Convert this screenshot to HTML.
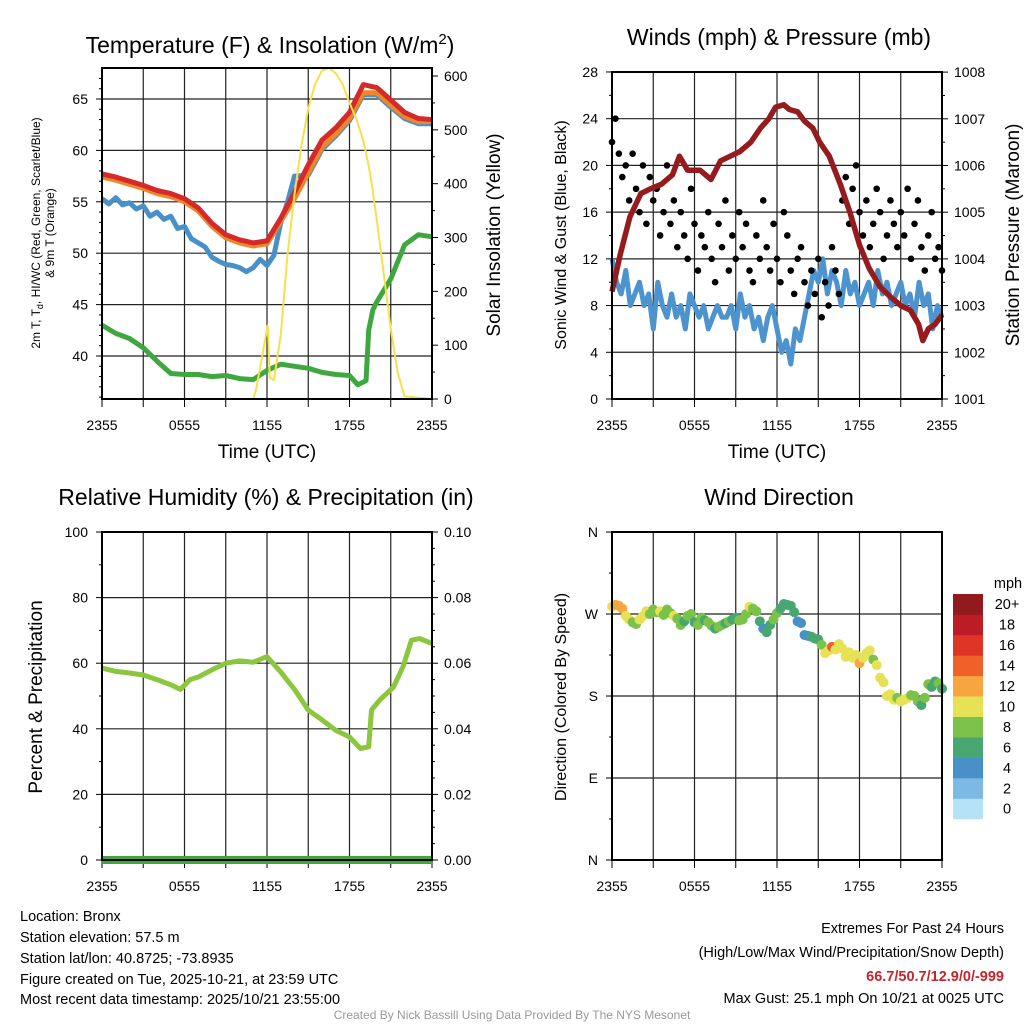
<!DOCTYPE html>
<html><head><meta charset="utf-8">
<style>
body{margin:0;background:#fff;}
svg{display:block;font-family:"Liberation Sans",sans-serif;}
</style></head>
<body>
<svg id="fig" width="1024" height="1024" viewBox="0 0 1024 1024">
<rect width="1024" height="1024" fill="#fff"/>
<g id="g-temp"></g>
<g id="g-wind"></g>
<g id="g-rh"></g>
<g id="g-dir"></g>

<text x="270" y="53" font-size="23" text-anchor="middle">Temperature (F) &amp; Insolation (W/m<tspan dy="-9" font-size="15">2</tspan><tspan dy="9">)</tspan></text>
<text x="779" y="45" font-size="23" text-anchor="middle">Winds (mph) &amp; Pressure (mb)</text>
<text x="266" y="505" font-size="23" text-anchor="middle">Relative Humidity (%) &amp; Precipitation (in)</text>
<text x="779" y="505" font-size="23" text-anchor="middle">Wind Direction</text>

<text x="267" y="458" font-size="19" text-anchor="middle">Time (UTC)</text>
<text x="777" y="458" font-size="19" text-anchor="middle">Time (UTC)</text>

<g transform="translate(40,233) rotate(-90)">
<text x="0" y="0" font-size="12" text-anchor="middle">2m T, T<tspan dy="3" font-size="9">d</tspan><tspan dy="-3">, HI/WC (Red, Green, Scarlet/Blue)</tspan></text>
<text x="0" y="14" font-size="12" text-anchor="middle">&amp; 9m T (Orange)</text>
</g>
<text transform="translate(500,235) rotate(-90)" font-size="19" text-anchor="middle">Solar Insolation (Yellow)</text>
<text transform="translate(566,235) rotate(-90)" font-size="16" text-anchor="middle">Sonic Wind &amp; Gust (Blue, Black)</text>
<text transform="translate(1019,235) rotate(-90)" font-size="19" text-anchor="middle">Station Pressure (Maroon)</text>
<text transform="translate(42,697) rotate(-90)" font-size="19" text-anchor="middle">Percent &amp; Precipitation</text>
<text transform="translate(566,697) rotate(-90)" font-size="16" text-anchor="middle">Direction (Colored By Speed)</text>

<g font-size="14.5">
<text x="20" y="921">Location: Bronx</text>
<text x="20" y="942">Station elevation: 57.5 m</text>
<text x="20" y="963">Station lat/lon: 40.8725; -73.8935</text>
<text x="20" y="984">Figure created on Tue, 2025-10-21, at 23:59 UTC</text>
<text x="20" y="1004">Most recent data timestamp: 2025/10/21 23:55:00</text>
</g>
<g font-size="14.5" text-anchor="end">
<text x="1004" y="933">Extremes For Past 24 Hours</text>
<text x="1004" y="957">(High/Low/Max Wind/Precipitation/Snow Depth)</text>
<text x="1004" y="981" fill="#c4262e" font-weight="bold">66.7/50.7/12.9/0/-999</text>
<text x="1004" y="1003">Max Gust: 25.1 mph On 10/21 at 0025 UTC</text>
</g>
<text x="512" y="1019" font-size="12" fill="#999" text-anchor="middle">Created By Nick Bassill Using Data Provided By The NYS Mesonet</text>
</svg>
<script>
// ---------- data ----------
const xTickLabels = ["2355","0555","1155","1755","2355"];
const hours = [0,1,2,3,4,5,6,7,8,9,10,11,12,13,14,15,16,17,18,19,20,21,22,23,24];
const tempRed = [57.7,57.4,57.0,56.6,56.1,55.8,55.3,54.4,52.9,51.8,51.3,51.0,51.2,53.4,55.9,58.6,61.0,62.2,63.7,66.4,66.1,64.9,63.7,63.1,63.0];
const temp9m = [57.4,57.1,56.7,56.3,55.8,55.5,55.0,54.1,52.6,51.5,51.0,50.7,50.9,53.1,55.3,57.8,60.3,61.6,63.1,65.6,65.6,64.4,63.3,62.8,62.8];
const blueTime = [0,0.5,1,1.5,2,2.5,3,3.5,4,4.5,5,5.5,6,6.5,7,7.5,8,8.5,9,9.5,10,10.5,11,11.5,12,12.5,13,13.5,14,15,16,17,18,19,20,21,22,23,24];
const tempBlue = [55.3,54.8,55.4,54.7,54.9,54.3,54.6,53.6,54.0,53.3,53.6,52.4,52.6,51.4,51.0,50.6,49.6,49.2,48.9,48.8,48.6,48.2,48.6,49.4,48.8,49.8,53.0,55.0,57.5,57.6,60.1,61.4,62.9,65.4,65.4,64.2,63.1,62.6,62.6];
const dewTime = [0,1,2,3,4,5,6,7,8,9,10,11,12,13,14,15,16,17,18,18.6,19.2,19.4,19.7,20,21,22,23,24];
const dewPoint = [43.0,42.2,41.7,40.8,39.5,38.3,38.2,38.2,38.0,38.1,37.8,37.7,38.6,39.2,39.0,38.8,38.4,38.2,38.1,37.2,37.6,42.5,44.5,45.3,47.5,50.8,51.8,51.6];
const solTime = [0,11,11.2,11.6,12.05,12.2,12.5,13,13.5,14,14.5,15,15.5,16,16.5,17,17.5,18,18.5,19,19.5,20,20.5,21,21.5,22,24];
const solar = [0,0,17,72,137,40,35,120,270,380,470,540,585,610,615,605,585,550,520,480,420,330,230,130,50,5,0];
const tempTicks = [40,45,50,55,60,65];
const solarTicks = [0,100,200,300,400,500,600];

const windBlue = [12,10,9,11,8,9,10, 8,9,6,10,8,7, 9,7,8,6,9,8, 7,8,6,7,8,7, 7,8,6,9,7,8, 6,7,5,7,8,6, 4,5,3,6,5,7, 9,11,10,12,9,11, 10,8,11,9,10,8, 9,10,8,11,9,10, 8,9,10,8,9,7, 10,8,9,6,8,7];
const gusts = [22,24,21,19,20,17,21,18,16,20,15,19,17,18,14,16,20,15,17,13,16,14,12,18,15,11,14,13,16,12,10,15,13,17,11,14,12,16,13,15,11,10,14,12,17,13,11,15,12,10,16,14,11,9,12,13,10,8,11,9,12,7,10,8,13,11,9,17,19,15,18,20,16,14,17,13,15,18,16,12,14,17,15,13,16,14,18,12,15,17,13,11,14,16,12,13,11];
const presTime = [0,0.6,1.3,2.1,2.8,3.6,4.4,4.9,5.5,6.4,7.2,7.9,8.6,9.3,10.1,10.8,11.4,11.9,12.5,12.9,13.5,14,14.6,15.1,15.8,16.6,17.3,18,18.7,19.5,20.2,21,21.7,22.3,22.6,23,23.5,24];
const pressure = [1003.3,1004.1,1004.9,1005.4,1005.5,1005.6,1005.8,1006.2,1005.9,1005.9,1005.7,1006.1,1006.2,1006.3,1006.5,1006.8,1007.0,1007.25,1007.3,1007.2,1007.15,1006.95,1006.8,1006.5,1006.2,1005.6,1005.0,1004.3,1003.8,1003.4,1003.2,1003.0,1002.9,1002.6,1002.25,1002.5,1002.6,1002.8];
const windTicks = [0,4,8,12,16,20,24,28];
const presTicks = [1001,1002,1003,1004,1005,1006,1007,1008];

const rhTime = [0,1,2,3,4,5,5.7,6.4,7,8,9,10,11,12,13,14,15,16,17,18,18.8,19.4,19.6,20.2,21.2,21.9,22.5,23.1,24];
const rh = [58.5,57.5,57,56.4,55,53.4,52,55,55.8,58,60,60.7,60.3,62,57.3,52,45.7,42.7,39.5,37.5,34,34.5,45.7,48.8,52.7,59,67,67.5,66];
const precipTime = [0,24];
const precip = [0,0];
const rhTicks = [0,20,40,60,80,100];
const precipTicks = ["0.00","0.02","0.04","0.06","0.08","0.10"];

const direction = [278,280,279,276,268,264,261,259,264,268,273,270,275,272,273,269,275,271,268,265,258,262,268,270,261,258,266,263,261,257,254,256,258,260,262,264,266,263,264,270,278,276,273,262,254,250,258,264,271,276,281,280,279,272,262,260,247,246,245,243,242,236,227,230,234,231,237,232,223,228,222,225,216,222,227,230,220,214,200,195,180,182,176,178,174,176,178,181,180,174,170,178,193,190,196,194,188];
const dirSpeed = [10,12,12,11,9,10,8,7,10,9,9,8,8,7,9,8,7,8,9,7,7,6,8,7,6,7,8,6,7,8,6,7,7,6,8,6,6,7,8,7,9,8,7,5,4,5,6,7,7,6,6,6,6,5,4,4,3,4,5,6,6,8,10,9,13,10,10,9,9,10,10,9,12,10,9,10,8,9,9,10,10,9,10,8,9,10,10,8,8,7,6,8,7,6,6,7,6];
const dirTicks = ["N","E","S","W","N"];
const speedBins = ["0","2","4","6","8","10","12","14","16","18","20+"];
const speedColors = ["#b6e2f7","#7cb9e4","#4990c8","#48a771","#7cc24a","#e6e155","#f7a541","#f0612a","#de3527","#bb1c25","#921a1d"];

// ---------- helpers ----------
const NS="http://www.w3.org/2000/svg";
function mk(parent,tag,attrs){const e=document.createElementNS(NS,tag);for(const k in attrs)e.setAttribute(k,attrs[k]);parent.appendChild(e);return e;}
function pathFrom(xs,ys,fx,fy){return xs.map((x,i)=>(i?"L":"M")+fx(x).toFixed(1)+","+fy(ys[i]).toFixed(1)).join("");}

function frame(g,x0,y0,x1,y1){
  for(let h=3;h<24;h+=3){
    const x=x0+(x1-x0)*h/24;
    const l=mk(g,"line",{x1:x,x2:x,y1:y0,y2:y1,stroke:"#222","stroke-width":1.2});
    
    
  }
  for(let i=0;i<xTickLabels.length;i++){
    const x=x0+(x1-x0)*i/4;
    const t=mk(g,"text",{x:x,y:y1+31,"font-size":14,"text-anchor":"middle"});
    t.textContent=xTickLabels[i];
    
    
  }
  for(let h=0;h<=24;h+=3){
    const x=x0+(x1-x0)*h/24;
    mk(g,"line",{x1:x,x2:x,y1:y1,y2:y1+8,stroke:"#000","stroke-width":1});
  }
}
function border(g,x0,y0,x1,y1){
  const r=mk(g,"rect",{x:x0,y:y0,width:x1-x0,height:y1-y0,fill:"none",stroke:"#000","stroke-width":2});
  
  
}
function hgrid(g,x0,x1,y){mk(g,"line",{x1:x0,x2:x1,y1:y,y2:y,stroke:"#222","stroke-width":1.2});}
function leftTick(g,x0,y,label,minor){
  mk(g,"line",{x1:x0,x2:x0-(minor?3:6),y1:y,y2:y,stroke:"#000","stroke-width":1});
  if(label!==null){const t=mk(g,"text",{x:x0-14,y:y+5,"font-size":14,"text-anchor":"end"});t.textContent=label;
    
    }
}
function rightTick(g,x1,y,label,minor){
  mk(g,"line",{x1:x1,x2:x1+(minor?3:6),y1:y,y2:y,stroke:"#000","stroke-width":1});
  if(label!==null){const t=mk(g,"text",{x:x1+12,y:y+5,"font-size":14,"text-anchor":"start"});t.textContent=label;
    
    }
}

// ---------- Temperature panel ----------
(function(){
  const g=document.getElementById("g-temp");
  const x0=102,x1=432,y0=68,y1=399;
  const fx=t=>x0+(x1-x0)*t/24;
  const fy=v=>356-(v-40)*10.28;
  const fw=w=>399-w*0.5383;
  frame(g,x0,y0,x1,y1);
  tempTicks.forEach(v=>{hgrid(g,x0,x1,fy(v));leftTick(g,x0,fy(v),String(v),false);});
  for(let v=36;v<=67;v++){ if(v%5) leftTick(g,x0,fy(v),null,true);}
  solarTicks.forEach(w=>rightTick(g,x1,fw(w),String(w),false));
  for(let w=50;w<=600;w+=100) rightTick(g,x1,fw(w),null,true);
  let p;
  p=mk(g,"path",{d:pathFrom(dewTime,dewPoint,fx,fy),fill:"none",stroke:"#3fa73f","stroke-width":5,"stroke-linejoin":"round"});
  
  
  p=mk(g,"path",{d:pathFrom(blueTime,tempBlue,fx,fy),fill:"none",stroke:"#4a90c8","stroke-width":5,"stroke-linejoin":"round"});
  
  
  p=mk(g,"path",{d:pathFrom(hours,temp9m,fx,fy),fill:"none",stroke:"#f0862a","stroke-width":5,"stroke-linejoin":"round"});
  
  
  p=mk(g,"path",{d:pathFrom(hours,tempRed,fx,fy),fill:"none",stroke:"#d42a2a","stroke-width":5,"stroke-linejoin":"round"});
  
  
  p=mk(g,"path",{d:pathFrom(solTime,solar,fx,fw),fill:"none",stroke:"#f7e04b","stroke-width":2,"stroke-linejoin":"round"});
  
  
  border(g,x0,y0,x1,y1);
})();

// ---------- Wind panel ----------
(function(){
  const g=document.getElementById("g-wind");
  const x0=612,x1=942,y0=72,y1=399;
  const fx=t=>x0+(x1-x0)*t/24;
  const fy=v=>399-v*11.68;
  const fp=p=>399-(p-1001)*46.7;
  frame(g,x0,y0,x1,y1);
  windTicks.forEach(v=>{ if(v>0&&v<28) hgrid(g,x0,x1,fy(v)); leftTick(g,x0,fy(v),String(v),false);});
  for(let v=2;v<28;v+=4) leftTick(g,x0,fy(v),null,true);
  presTicks.forEach(v=>rightTick(g,x1,fp(v),String(v),false));
  for(let v=1001.5;v<1008;v+=1) rightTick(g,x1,fp(v),null,true);
  const bt=windBlue.map((_,i)=>i/3);
  let p=mk(g,"path",{d:pathFrom(bt,windBlue,fx,fy),fill:"none",stroke:"#4d94cf","stroke-width":5,"stroke-linejoin":"round"});
  
  
  gusts.forEach((v,i)=>{
    const c=mk(g,"circle",{cx:fx(i*24/(gusts.length-1)),cy:fy(v),r:3.3,fill:"#000"});
    
    
  });
  p=mk(g,"path",{d:pathFrom(presTime,pressure,fx,fp),fill:"none",stroke:"#951b1e","stroke-width":5.5,"stroke-linejoin":"round"});
  
  
  border(g,x0,y0,x1,y1);
})();

// ---------- RH panel ----------
(function(){
  const g=document.getElementById("g-rh");
  const x0=102,x1=432,y0=532,y1=860;
  const fx=t=>x0+(x1-x0)*t/24;
  const fy=v=>860-v*3.28;
  const fp=v=>860-v*3280;
  frame(g,x0,y0,x1,y1);
  rhTicks.forEach((v,i)=>{ if(v>0&&v<100) hgrid(g,x0,x1,fy(v)); leftTick(g,x0,fy(v),String(v),false); rightTick(g,x1,fy(v),precipTicks[i],false);});
  for(let v=10;v<100;v+=20){leftTick(g,x0,fy(v),null,true);}
  for(let v=5;v<100;v+=5){ if(v%20) rightTick(g,x1,fy(v),null,true);}
  let p=mk(g,"path",{d:pathFrom(rhTime,rh,fx,fy),fill:"none",stroke:"#8cc63f","stroke-width":5,"stroke-linejoin":"round"});
  
  
  p=mk(g,"path",{d:pathFrom(precipTime,precip,fx,fp),fill:"none",stroke:"#3fa73f","stroke-width":8});
  
  
  border(g,x0,y0,x1,y1);
})();

// ---------- Direction panel ----------
(function(){
  const g=document.getElementById("g-dir");
  const x0=612,x1=942,y0=532,y1=860;
  const fx=t=>x0+(x1-x0)*t/24;
  const fy=d=>860-d*0.911;
  frame(g,x0,y0,x1,y1);
  dirTicks.forEach((lab,i)=>{const y=fy(i*90); if(i>0&&i<4) hgrid(g,x0,x1,y); leftTick(g,x0,y,lab,false);});
  for(let d=45;d<360;d+=90) leftTick(g,x0,fy(d),null,true);
  const col=s=>speedColors[Math.min(10,Math.max(0,Math.round(s/2)))];
  direction.forEach((d,i)=>{
    const c=mk(g,"circle",{cx:fx(i*24/(direction.length-1)),cy:fy(d),r:5,fill:col(dirSpeed[i])});
    
    
  });
  border(g,x0,y0,x1,y1);
  const cb=mk(g,"g",{});
  
  
  const top=594,h=20.45;
  speedBins.forEach((lab,i)=>{
    const y=top+(10-i)*h;
    const r=mk(cb,"rect",{x:953,y:y,width:30,height:h+0.3,fill:speedColors[i]});
    
    
    const t=mk(cb,"text",{x:1007,y:y+h/2+5,"font-size":14.5,"text-anchor":"middle"});
    t.textContent=lab;
    
    
  });
  const u=mk(cb,"text",{x:1008,y:588,"font-size":14.5,"text-anchor":"middle"});
  u.textContent="mph";
  
  
})();
</script>
</body></html>
